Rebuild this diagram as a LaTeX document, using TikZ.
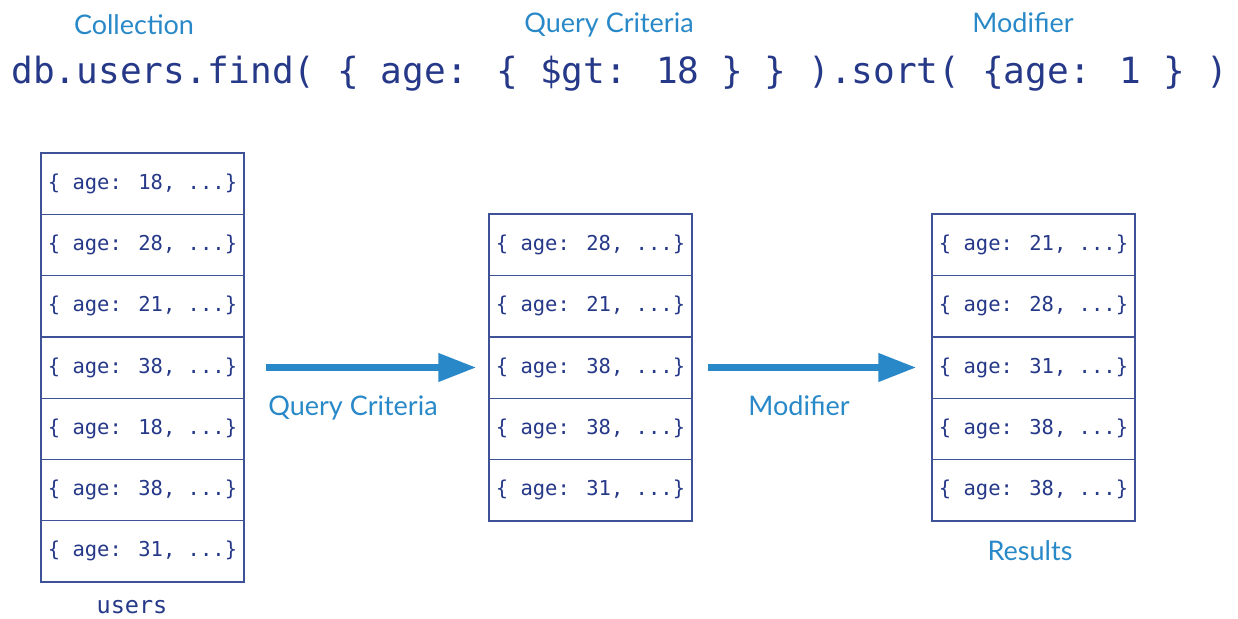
\documentclass[tikz,border=0pt]{standalone}
\usepackage{fontspec}
\usepackage{tikz}
\usetikzlibrary{arrows.meta,positioning}
\newfontfamily\codefont{DejaVu Sans Mono}
\newfontfamily\labelfont{Lato}
\definecolor{navy}{RGB}{38,56,136}
\definecolor{boxline}{RGB}{62,82,152}
\definecolor{lblue}{RGB}{41,137,200}
\tikzstyle{doc} = [rectangle, draw=boxline, line width=1.3pt, minimum width=203pt, minimum height=61.3pt, inner sep=0pt, text=navy, font=\codefont\fontsize{20.5}{24}\selectfont]
\tikzstyle{lbl} = [text=lblue, anchor=base, inner sep=0pt, font=\labelfont\fontsize{27}{30}\selectfont]
\tikzstyle{code} = [text=navy, anchor=base, inner sep=0pt, font=\codefont\fontsize{36.1}{40}\selectfont]
\tikzstyle{line} = [draw=lblue, line width=7pt, -{Triangle[length=38pt,width=27pt]}]

\begin{document}
\begin{tikzpicture}[x=1pt, y=-1pt]
			\useasboundingbox (0,0) rectangle (1238,618);

			\node [lbl] (coll) at (134, 35) {Collection};
			\node [lbl] (crit) at (609, 33) {Query Criteria};
			\node [lbl] (mod) at (1023, 33) {Modifier};
			\node [code] (query) at (620, 83) {db.users.find( \{ age: \{ \$gt: 18 \} \} ).sort( \{age: 1 \} )};

			\node [doc] (u1) at (142.5, 183.6) {\{ age: 18, ...\}};
			\node [doc] (u2) at (142.5, 244.9) {\{ age: 28, ...\}};
			\node [doc] (u3) at (142.5, 306.2) {\{ age: 21, ...\}};
			\node [doc] (u4) at (142.5, 367.5) {\{ age: 38, ...\}};
			\node [doc] (u5) at (142.5, 428.8) {\{ age: 18, ...\}};
			\node [doc] (u6) at (142.5, 490.1) {\{ age: 38, ...\}};
			\node [doc] (u7) at (142.5, 551.4) {\{ age: 31, ...\}};
			\node [code, font=\codefont\fontsize{23.5}{26}\selectfont] (users) at (132, 613) {users};

			\node [doc] (q1) at (590.5, 244.7) {\{ age: 28, ...\}};
			\node [doc] (q2) at (590.5, 306.1) {\{ age: 21, ...\}};
			\node [doc] (q3) at (590.5, 367.5) {\{ age: 38, ...\}};
			\node [doc] (q4) at (590.5, 428.9) {\{ age: 38, ...\}};
			\node [doc] (q5) at (590.5, 490.3) {\{ age: 31, ...\}};

			\node [doc] (r1) at (1033.5, 244.7) {\{ age: 21, ...\}};
			\node [doc] (r2) at (1033.5, 306.1) {\{ age: 28, ...\}};
			\node [doc] (r3) at (1033.5, 367.5) {\{ age: 31, ...\}};
			\node [doc] (r4) at (1033.5, 428.9) {\{ age: 38, ...\}};
			\node [doc] (r5) at (1033.5, 490.3) {\{ age: 38, ...\}};
			\node [lbl] (res) at (1030, 560) {Results};

			\node [lbl] (critlbl) at (353, 415) {Query Criteria};
			\node [lbl] (modlbl) at (799, 415) {Modifier};

			\path [line, shorten <=21pt, shorten >=12pt] (u4.east) -- (q3.west);
			\path [line, shorten <=15pt, shorten >=15pt] (q3.east) -- (r3.west);
\end{tikzpicture}
\end{document}
